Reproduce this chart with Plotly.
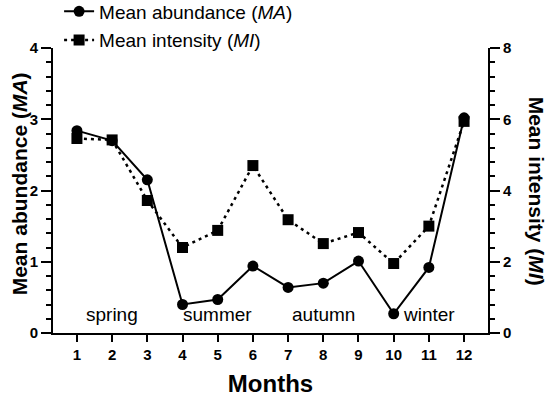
import plotly.graph_objects as go

months = [1, 2, 3, 4, 5, 6, 7, 8, 9, 10, 11, 12]
mean_abundance = [2.84, 2.70, 2.15, 0.40, 0.47, 0.94, 0.64, 0.70, 1.01, 0.27, 0.92, 3.02]
mean_intensity = [5.46, 5.42, 3.72, 2.40, 2.88, 4.70, 3.18, 2.51, 2.82, 1.95, 3.00, 5.94]
seasons = ["spring", "summer", "autumn", "winter"]
season_x = [2, 5, 8, 11]
season_y = [0.26, 0.26, 0.26, 0.26]

FONT = "Liberation Sans, Arial, Helvetica, sans-serif"

fig = go.Figure()
fig.add_trace(go.Scatter(
    x=months, y=mean_abundance, mode="lines+markers",
    name="Mean abundance (<i>MA</i>)", legendgroup="a",
    line=dict(color="black", width=2),
    marker=dict(symbol="circle", size=11, color="black"),
    yaxis="y"))
fig.add_trace(go.Scatter(
    x=months, y=mean_intensity, mode="lines+markers",
    name="Mean intensity (<i>MI</i>)", legendgroup="b",
    line=dict(color="black", width=2.5, dash="3px,4px"),
    marker=dict(symbol="square", size=11, color="black"),
    yaxis="y2"))

for s, sx, sy in zip(seasons, season_x, season_y):
    fig.add_annotation(x=sx, y=sy, xref="x", yref="y", text=s, showarrow=False,
                       font=dict(family=FONT, size=19, color="black"))

fig.add_annotation(x=-0.078, y=0.522, xref="paper", yref="paper",
                   xanchor="center", yanchor="middle",
                   text="<b>Mean abundance (<i>MA</i>)</b>", textangle=-90,
                   showarrow=False, font=dict(family=FONT, size=21, color="black"))
fig.add_annotation(x=1.112, y=0.497, xref="paper", yref="paper",
                   xanchor="center", yanchor="middle",
                   text="<b>Mean intensity (<i>MI</i>)</b>", textangle=90,
                   showarrow=False, font=dict(family=FONT, size=21, color="black"))

fig.update_layout(
    width=550, height=397,
    margin=dict(l=53, r=62, t=48, b=64, autoexpand=False),
    paper_bgcolor="white", plot_bgcolor="white",
    font=dict(family=FONT, color="black"),
    showlegend=True,
    legend=dict(x=0.014, y=1.195, xanchor="left", yanchor="top", bgcolor="rgba(0,0,0,0)",
                font=dict(family=FONT, size=19, color="black"),
                traceorder="grouped", tracegroupgap=1, itemwidth=30),
    xaxis=dict(range=[0.32, 12.68], tickmode="array", tickvals=months,
               ticktext=[str(m) for m in months],
               showline=True, linecolor="black", linewidth=2,
               ticks="outside", ticklen=7, tickwidth=2, tickcolor="black",
               showgrid=False, zeroline=False,
               tickfont=dict(family=FONT, size=15, color="black", weight="bold"),
               title=dict(text="<b>Months</b>", font=dict(family=FONT, size=24), standoff=13)),
    yaxis=dict(range=[0, 4], dtick=1, showline=True, linecolor="black", linewidth=2,
               ticks="outside", ticklen=10, tickwidth=2, tickcolor="black",
               minor=dict(dtick=0.2, ticks="outside", ticklen=5, tickwidth=1.5, tickcolor="black"),
               showgrid=False, zeroline=False,
               tickfont=dict(family=FONT, size=15, color="black", weight="bold")),
    yaxis2=dict(range=[0, 8], dtick=2, overlaying="y", side="right",
                showline=True, linecolor="black", linewidth=2,
                ticks="outside", ticklen=10, tickwidth=2, tickcolor="black",
                minor=dict(dtick=0.4, ticks="outside", ticklen=5, tickwidth=1.5, tickcolor="black"),
                showgrid=False, zeroline=False,
                tickfont=dict(family=FONT, size=15, color="black", weight="bold")),
)

fig.write_html("out.html", config={"displayModeBar": False},
               post_script="document.body.style.margin='0';")
